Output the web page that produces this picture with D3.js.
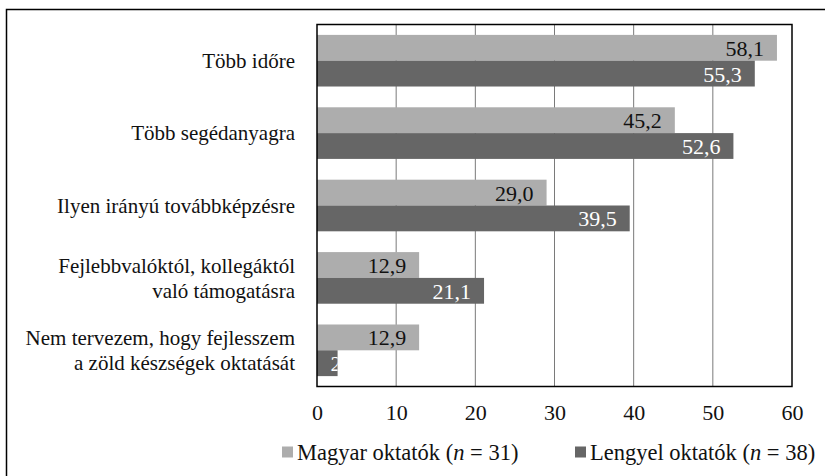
<!DOCTYPE html>
<html>
<head>
<meta charset="utf-8">
<script src="https://cdn.jsdelivr.net/npm/d3@7"></script>
<style>
  body { margin: 0; background: #fff; }
</style>
</head>
<body>
<div id="chart"></div>
<script>
// chart values
var categories = [
  "Több időre",
  "Több segédanyagra",
  "Ilyen irányú továbbképzésre",
  "Fejlebbvalóktól, kollegáktól\nvaló támogatásra",
  "Nem tervezem, hogy fejlesszem\na zöld készségek oktatását"
];
var seriesNames = ["Magyar oktatók", "Lengyel oktatók"];
var seriesN = [31, 38];
var magyar = [58.1, 45.2, 29.0, 12.9, 12.9];
var lengyel = [55.3, 52.6, 39.5, 21.1, 2.6];
var xTicks = [0, 10, 20, 30, 40, 50, 60];

var colors = ["#adadad", "#666666"];
var labelColors = ["#111", "#fff"];
var FONT = "'Liberation Serif', Tinos, 'Times New Roman', 'DejaVu Serif', 'Noto Serif', serif";

var W = 825, H = 476;
var margin = { top: 24.5, right: 33, bottom: 89.5, left: 317 },
  width = W - margin.left - margin.right,
  height = H - margin.top - margin.bottom;

var svg = d3.select("#chart").append("svg")
  .attr("width", W)
  .attr("height", H)
  .style("font-family", FONT);

// outer frame (runs off the right / bottom edge)
svg.append("rect")
  .attr("x", 6.5).attr("y", 9.5)
  .attr("width", W + 20).attr("height", H + 20)
  .attr("fill", "none")
  .attr("stroke", "#000")
  .attr("stroke-width", 1.5);

var g = svg.append("g")
  .attr("transform", "translate(" + margin.left + "," + margin.top + ")");

var xScale = d3.scaleLinear().domain([0, 60]).range([0, width]);

var yScale = d3.scaleBand()
  .domain(categories)
  .range([0, height])
  .paddingInner(0.287)
  .paddingOuter(0.1435);

var ySub = d3.scaleBand()
  .domain([0, 1])
  .range([0, yScale.bandwidth()]);

// vertical gridlines
g.append("g")
  .selectAll("line")
  .data(xTicks.slice(1, -1))
  .enter().append("line")
  .attr("x1", function(d) { return xScale(d); })
  .attr("x2", function(d) { return xScale(d); })
  .attr("y1", 0)
  .attr("y2", height)
  .attr("stroke", "#7a7a7a")
  .attr("stroke-width", 1);

var rows = categories.map(function(c, i) {
  return { cat: c, vals: [magyar[i], lengyel[i]] };
});

var groups = g.selectAll(".grp")
  .data(rows)
  .enter().append("g")
  .attr("class", "grp")
  .attr("transform", function(d) { return "translate(0," + yScale(d.cat) + ")"; });

var fmt = function(v) { return d3.format(".1f")(v).replace(".", ","); };

groups.each(function(d, gi) {
  var grp = d3.select(this);
  d.vals.forEach(function(v, s) {
    var clipId = "clip-" + gi + "-" + s;
    grp.append("clipPath").attr("id", clipId)
      .append("rect")
      .attr("x", xScale(0))
      .attr("y", ySub(s))
      .attr("width", xScale(v) - xScale(0))
      .attr("height", ySub.bandwidth());

    grp.append("rect")
      .attr("x", xScale(0))
      .attr("y", ySub(s))
      .attr("width", xScale(v) - xScale(0))
      .attr("height", ySub.bandwidth())
      .attr("fill", colors[s]);

    // label too wide for the tiny bar: Excel shows it cut off
    var narrow = v < 5;
    grp.append("text")
      .attr("clip-path", "url(#" + clipId + ")")
      .attr("x", narrow ? xScale(v) - 7 : xScale(v) - 13)
      .attr("y", ySub(s) + ySub.bandwidth() / 2)
      .attr("dy", "0.36em")
      .attr("text-anchor", narrow ? "start" : "end")
      .style("font-size", "22px")
      .style("fill", labelColors[s])
      .text(fmt(v));
  });
});

// plot frame
g.append("rect")
  .attr("x", 0).attr("y", 0)
  .attr("width", width).attr("height", height)
  .attr("fill", "none")
  .attr("stroke", "#000")
  .attr("stroke-width", 1.5);

// category labels
var catLabels = g.append("g").selectAll("text")
  .data(categories)
  .enter().append("text")
  .attr("text-anchor", "end")
  .attr("x", -22)
  .attr("y", function(d) { return yScale(d) + yScale.bandwidth() / 2; })
  .style("font-size", "21px")
  .style("fill", "#111");

catLabels.each(function(d) {
  var lines = d.split("\n");
  var t = d3.select(this);
  var lh = 25;
  lines.forEach(function(line, i) {
    t.append("tspan")
      .attr("x", -22)
      .attr("dy", i === 0 ? (0.35 * 21 - (lines.length - 1) * lh / 2) + "px" : lh + "px")
      .text(line);
  });
});

// x axis tick labels
var xAxis = g.append("g")
  .attr("transform", "translate(0," + height + ")")
  .call(d3.axisBottom(xScale).tickValues(xTicks).tickSize(0).tickPadding(18).tickFormat(d3.format("d")));
xAxis.attr("font-family", null);
xAxis.select(".domain").remove();
xAxis.selectAll("text")
  .style("font-size", "22px")
  .attr("fill", "#111");

// legend
var legendY = 452;
var legendX = [282, 575];
var legend = svg.append("g").selectAll("g")
  .data(seriesNames)
  .enter().append("g")
  .attr("transform", function(d, i) { return "translate(" + legendX[i] + "," + legendY + ")"; });

legend.append("rect")
  .attr("x", 0).attr("y", -5.5)
  .attr("width", 11).attr("height", 11)
  .attr("fill", function(d, i) { return colors[i]; });

var lt = legend.append("text")
  .attr("x", 15)
  .attr("dy", "0.35em")
  .style("font-size", "22.5px")
  .style("fill", "#111");
lt.append("tspan").text(function(d) { return d + " ("; });
lt.append("tspan").style("font-style", "italic").text("n");
lt.append("tspan").text(function(d, i) { return " = " + seriesN[i] + ")"; });
</script>
</body>
</html>
